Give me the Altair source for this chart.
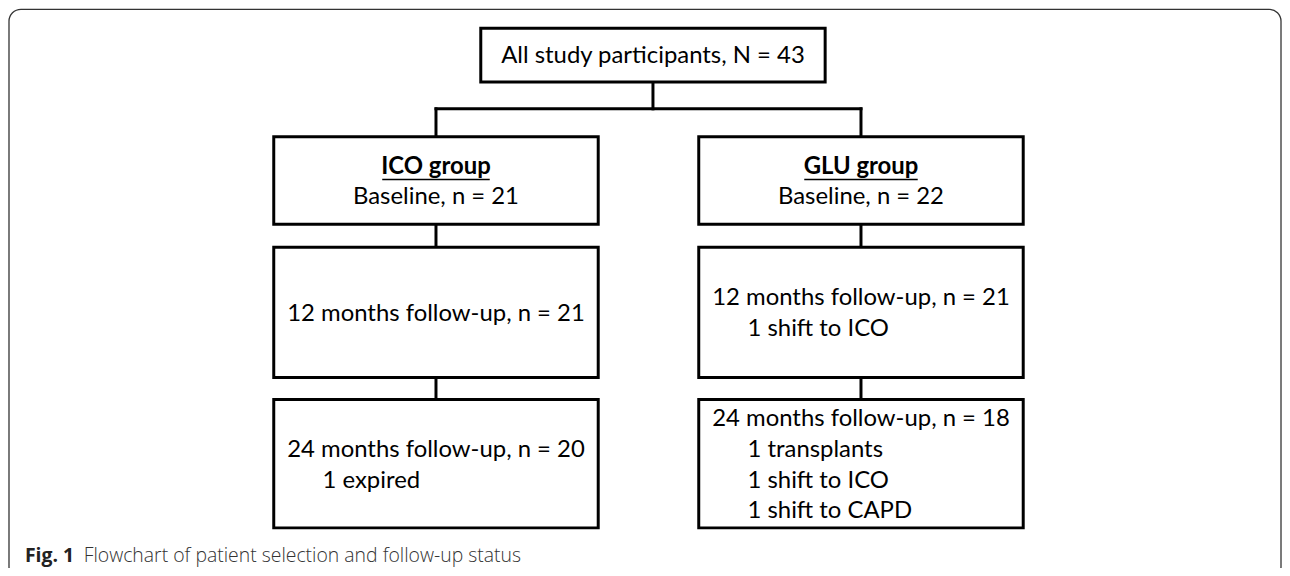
import altair as alt
import pandas as pd

# ---- content (text of the flowchart) ----
top_label = "All study participants, N = 43"
group_names = ["ICO group", "GLU group"]
baseline_labels = ["Baseline, n = 21", "Baseline, n = 22"]
m12_main = ["12 months follow-up, n = 21", "12 months follow-up, n = 21"]
m12_notes = [[], ["1 shift to ICO"]]
m24_main = ["24 months follow-up, n = 20", "24 months follow-up, n = 18"]
m24_notes = [["1 expired"], ["1 transplants", "1 shift to ICO", "1 shift to CAPD"]]
caption_bold = "Fig. 1"
caption_text = "Flowchart of patient selection and follow-up status"

# ---- layout (pixel coordinates of the figure) ----
W, H = 1280, 560
X0, Y0 = 8, 8
top_box = (483, 829, 27, 81)
cols = [(275, 601), (702, 1028)]
rows = {"base": (136, 224), "m12": (247, 378), "m24": (400, 529)}
bus_y = 108
line_gap = 31
indent = 114
underline_half = [54, 57]
FONT = "Lato"
FS = 24
CAP_FS = 19.5

xs = alt.Scale(domain=[X0, X0 + W], nice=False, zero=False)
ys = alt.Scale(domain=[Y0, Y0 + H], nice=False, zero=False, reverse=True)

def X(f):
    return alt.X(f, type="quantitative", scale=xs, axis=None)

def Y(f):
    return alt.Y(f, type="quantitative", scale=ys, axis=None)

# boxes
boxes = [dict(x=top_box[0], x2=top_box[1], y=top_box[2], y2=top_box[3])]
for (l, r) in cols:
    for k in ["base", "m12", "m24"]:
        boxes.append(dict(x=l, x2=r, y=rows[k][0], y2=rows[k][1]))
boxes_df = pd.DataFrame(boxes)

# connectors
top_cx = (top_box[0] + top_box[1]) / 2
ccx = [(l + r) / 2 for (l, r) in cols]
rules = [
    dict(x=top_cx, x2=top_cx, y=top_box[3], y2=bus_y),
    dict(x=ccx[0], x2=ccx[1], y=bus_y, y2=bus_y),
]
for c in ccx:
    rules.append(dict(x=c, x2=c, y=bus_y, y2=rows["base"][0]))
    rules.append(dict(x=c, x2=c, y=rows["base"][1], y2=rows["m12"][0]))
    rules.append(dict(x=c, x2=c, y=rows["m12"][1], y2=rows["m24"][0]))
rules_df = pd.DataFrame(rules)

# texts
center_txt = [dict(x=top_cx, y=(top_box[2] + top_box[3]) / 2 + 1, t=top_label)]
left_txt = []
bold_txt = []
underl = []
for i, c in enumerate(ccx):
    bold_txt.append(dict(x=c, y=166, t=group_names[i]))
    underl.append(dict(x=c - underline_half[i], x2=c + underline_half[i], y=179, y2=179))
    center_txt.append(dict(x=c, y=197, t=baseline_labels[i]))
    for key, mains, notes in [("m12", m12_main, m12_notes), ("m24", m24_main, m24_notes)]:
        lines = [mains[i]] + notes[i]
        n = len(lines)
        cy = (rows[key][0] + rows[key][1]) / 2 + 1.5
        for j, t in enumerate(lines):
            yy = cy + (j - (n - 1) / 2) * line_gap
            if j == 0:
                center_txt.append(dict(x=c, y=yy, t=t))
            else:
                left_txt.append(dict(x=c - indent, y=yy, t=t))

frame = alt.Chart(pd.DataFrame([dict(x=9, x2=1287, y=8, y2=580)])).mark_rect(
    fill="white", fillOpacity=0, stroke="#333333", strokeWidth=1.3, cornerRadius=12
).encode(x=X("x"), x2="x2", y=Y("y"), y2="y2")

box_layer = alt.Chart(boxes_df).mark_rect(
    fill="white", stroke="black", strokeWidth=3
).encode(x=X("x"), x2="x2", y=Y("y"), y2="y2")

rule_layer = alt.Chart(rules_df).mark_rule(
    color="black", strokeWidth=3, strokeCap="square"
).encode(x=X("x"), x2="x2", y=Y("y"), y2="y2")

ul_layer = alt.Chart(pd.DataFrame(underl)).mark_rule(
    color="black", strokeWidth=1.5
).encode(x=X("x"), x2="x2", y=Y("y"), y2="y2")

ctext = alt.Chart(pd.DataFrame(center_txt)).mark_text(
    font=FONT, fontSize=FS, align="center", baseline="middle", color="black"
).encode(x=X("x"), y=Y("y"), text="t:N")

ltext = alt.Chart(pd.DataFrame(left_txt)).mark_text(
    font=FONT, fontSize=FS, align="left", baseline="middle", color="black"
).encode(x=X("x"), y=Y("y"), text="t:N")

btext = alt.Chart(pd.DataFrame(bold_txt)).mark_text(
    font=FONT, fontSize=FS, fontWeight="bold", align="center", baseline="middle", color="black"
).encode(x=X("x"), y=Y("y"), text="t:N")

cap_b = alt.Chart(pd.DataFrame([dict(x=25, y=557, t=caption_bold)])).mark_text(
    font="Open Sans", fontSize=CAP_FS, fontWeight="bold", align="left", baseline="middle", color="#222222"
).encode(x=X("x"), y=Y("y"), text="t:N")

cap_t = alt.Chart(pd.DataFrame([dict(x=84, y=557, t=caption_text)])).mark_text(
    font="Open Sans", fontSize=CAP_FS, fontWeight=300, align="left", baseline="middle", color="#333333"
).encode(x=X("x"), y=Y("y"), text="t:N")

chart = alt.layer(
    frame, rule_layer, box_layer, ul_layer, ctext, ltext, btext, cap_b, cap_t
).properties(
    width=W, height=H, padding=0, autosize=alt.AutoSizeParams(type="none")
).configure_view(stroke="transparent")

chart.save("out.html", embed_options={"renderer": "svg", "actions": False})
